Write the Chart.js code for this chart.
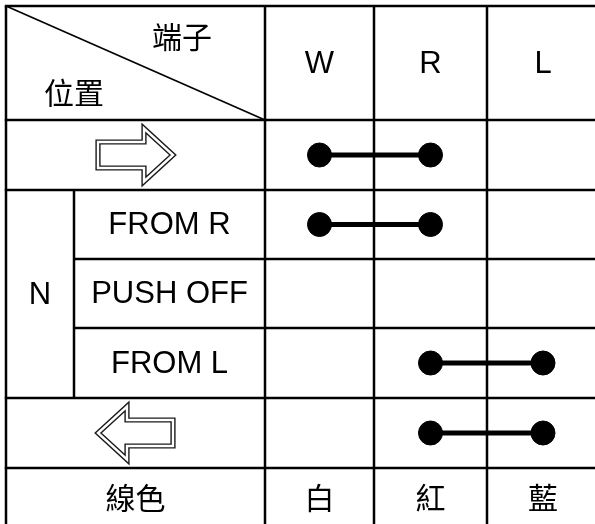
<!DOCTYPE html>
<html>
<head>
<meta charset="utf-8">
<script src="https://cdn.jsdelivr.net/npm/chart.js@4/dist/chart.umd.min.js"></script>
<style>
html,body{margin:0;padding:0;background:#fff;}
canvas{display:block;}
</style>
</head>
<body>
<canvas id="c" width="595" height="524"></canvas>
<script>
// ---- data ----
const terminals = ['W', 'R', 'L'];
const wireColours = ['白', '紅', '藍'];
const positions = ['⇨', 'FROM R', 'PUSH OFF', 'FROM L', '⇦'];
const groupLabel = 'N';              // spans positions 1..3
const groupRows = [1, 3];
const headerTerminal = '端子';
const headerPosition = '位置';
const footerLabel = '線色';
const connFrom = [0, 0, null, 1, 1]; // terminal index joined per position
const connTo   = [1, 1, null, 2, 2];

// ---- layout (pixel units of the scales) ----
const colEdges = [6, 74, 265, 374, 487, 599];   // group | label | W | R | L
const rowEdges = [6, 120, 190, 259, 328, 398, 468, 527]; // header | 5 positions | footer
const termCenter = i => (colEdges[2 + i] + colEdges[3 + i]) / 2;
const rowCenter = r => (rowEdges[1 + r] + rowEdges[2 + r]) / 2;
const LATIN = '31px "Liberation Sans", Arial, sans-serif';
const CJK = '30px "Noto Sans CJK TC", "Noto Sans CJK SC", sans-serif';

const datasets = [];
positions.forEach((p, r) => {
  if (connFrom[r] === null) return;
  datasets.push({
    label: p,
    data: [{x: termCenter(connFrom[r]), y: rowCenter(r)}, {x: termCenter(connTo[r]), y: rowCenter(r)}],
    showLine: true,
    borderColor: '#000',
    backgroundColor: '#000',
    borderWidth: 5,
    pointRadius: 12,
    pointBorderWidth: 1,
    pointHoverRadius: 12,
    clip: false
  });
});

function drawArrow(ctx, cx, cy, dir) {
  const half = 37.5, headLen = 29, shaftH = 13, headH = 26.5;
  const pts = [
    [-half, -shaftH], [half - headLen, -shaftH], [half - headLen, -headH], [half, 0],
    [half - headLen, headH], [half - headLen, shaftH], [-half, shaftH]
  ];
  ctx.save();
  ctx.beginPath();
  pts.forEach(([x, y], i) => {
    const px = cx + dir * x, py = cy + y;
    if (i === 0) ctx.moveTo(px, py); else ctx.lineTo(px, py);
  });
  ctx.closePath();
  ctx.lineJoin = 'miter';
  ctx.miterLimit = 10;
  ctx.fillStyle = '#fff';
  ctx.fill();
  ctx.strokeStyle = '#1a1a1a';
  ctx.lineWidth = 5.2;
  ctx.stroke();
  ctx.strokeStyle = '#fff';
  ctx.lineWidth = 2.4;
  ctx.stroke();
  ctx.restore();
}

const tablePlugin = {
  id: 'table',
  beforeDatasetsDraw(chart) {
    const ctx = chart.ctx;
    const X = v => chart.scales.x.getPixelForValue(v);
    const Y = v => chart.scales.y.getPixelForValue(v);
    const bottom = 524, right = 595;
    ctx.save();
    ctx.fillStyle = '#fff';
    ctx.fillRect(0, 0, chart.width, chart.height);
    ctx.strokeStyle = '#000';
    ctx.lineWidth = 2.5;
    const line = (x1, y1, x2, y2) => { ctx.beginPath(); ctx.moveTo(X(x1), Y(y1)); ctx.lineTo(X(x2), Y(y2)); ctx.stroke(); };
    // horizontal lines
    rowEdges.slice(0, 7).forEach((y, i) => {
      const inner = (i === 3 || i === 4);
      line(inner ? colEdges[1] : colEdges[0] - 1.2, y, right, y);
    });
    // vertical lines
    [0, 2, 3, 4].forEach(c => line(colEdges[c], rowEdges[0], colEdges[c], bottom));
    line(colEdges[1], rowEdges[1 + groupRows[0]], colEdges[1], rowEdges[2 + groupRows[1]]);
    // diagonal
    ctx.lineWidth = 1.7;
    line(colEdges[0], rowEdges[0], colEdges[2], rowEdges[1]);

    ctx.fillStyle = '#000';
    ctx.textAlign = 'center';
    ctx.textBaseline = 'middle';
    // header
    ctx.font = CJK;
    ctx.fillText(headerTerminal, X(182), Y(37));
    ctx.fillText(headerPosition, X(74), Y(93));
    ctx.font = LATIN;
    terminals.forEach((t, i) => ctx.fillText(t, X(termCenter(i)), Y(rowCenter(-1) + 1)));
    // position labels
    positions.forEach((p, r) => {
      const inGroup = r >= groupRows[0] && r <= groupRows[1];
      if (p === '⇨' || p === '⇦') {
        drawArrow(ctx, X((colEdges[0] + colEdges[2]) / 2), Y(rowCenter(r)), p === '⇨' ? 1 : -1);
      } else {
        ctx.font = LATIN;
        const cx = inGroup ? (colEdges[1] + colEdges[2]) / 2 : (colEdges[0] + colEdges[2]) / 2;
        ctx.fillText(p, X(cx), Y(rowCenter(r) + 1));
      }
    });
    ctx.font = LATIN;
    ctx.fillText(groupLabel, X((colEdges[0] + colEdges[1]) / 2),
      Y((rowEdges[1 + groupRows[0]] + rowEdges[2 + groupRows[1]]) / 2 + 1));
    // footer
    ctx.font = CJK;
    const fy = rowCenter(5);
    ctx.fillText(footerLabel, X((colEdges[0] + colEdges[2]) / 2), Y(fy));
    wireColours.forEach((w, i) => ctx.fillText(w, X(termCenter(i)), Y(fy)));
    ctx.restore();
  }
};

new Chart(document.getElementById('c'), {
  type: 'scatter',
  data: { datasets },
  options: {
    responsive: false,
    animation: false,
    layout: { padding: 0, autoPadding: false },
    plugins: { legend: { display: false }, tooltip: { enabled: false } },
    scales: {
      x: { type: 'linear', min: 0, max: 595, display: false },
      y: { type: 'linear', min: 0, max: 524, reverse: true, display: false }
    }
  },
  plugins: [tablePlugin]
});
</script>
</body>
</html>
